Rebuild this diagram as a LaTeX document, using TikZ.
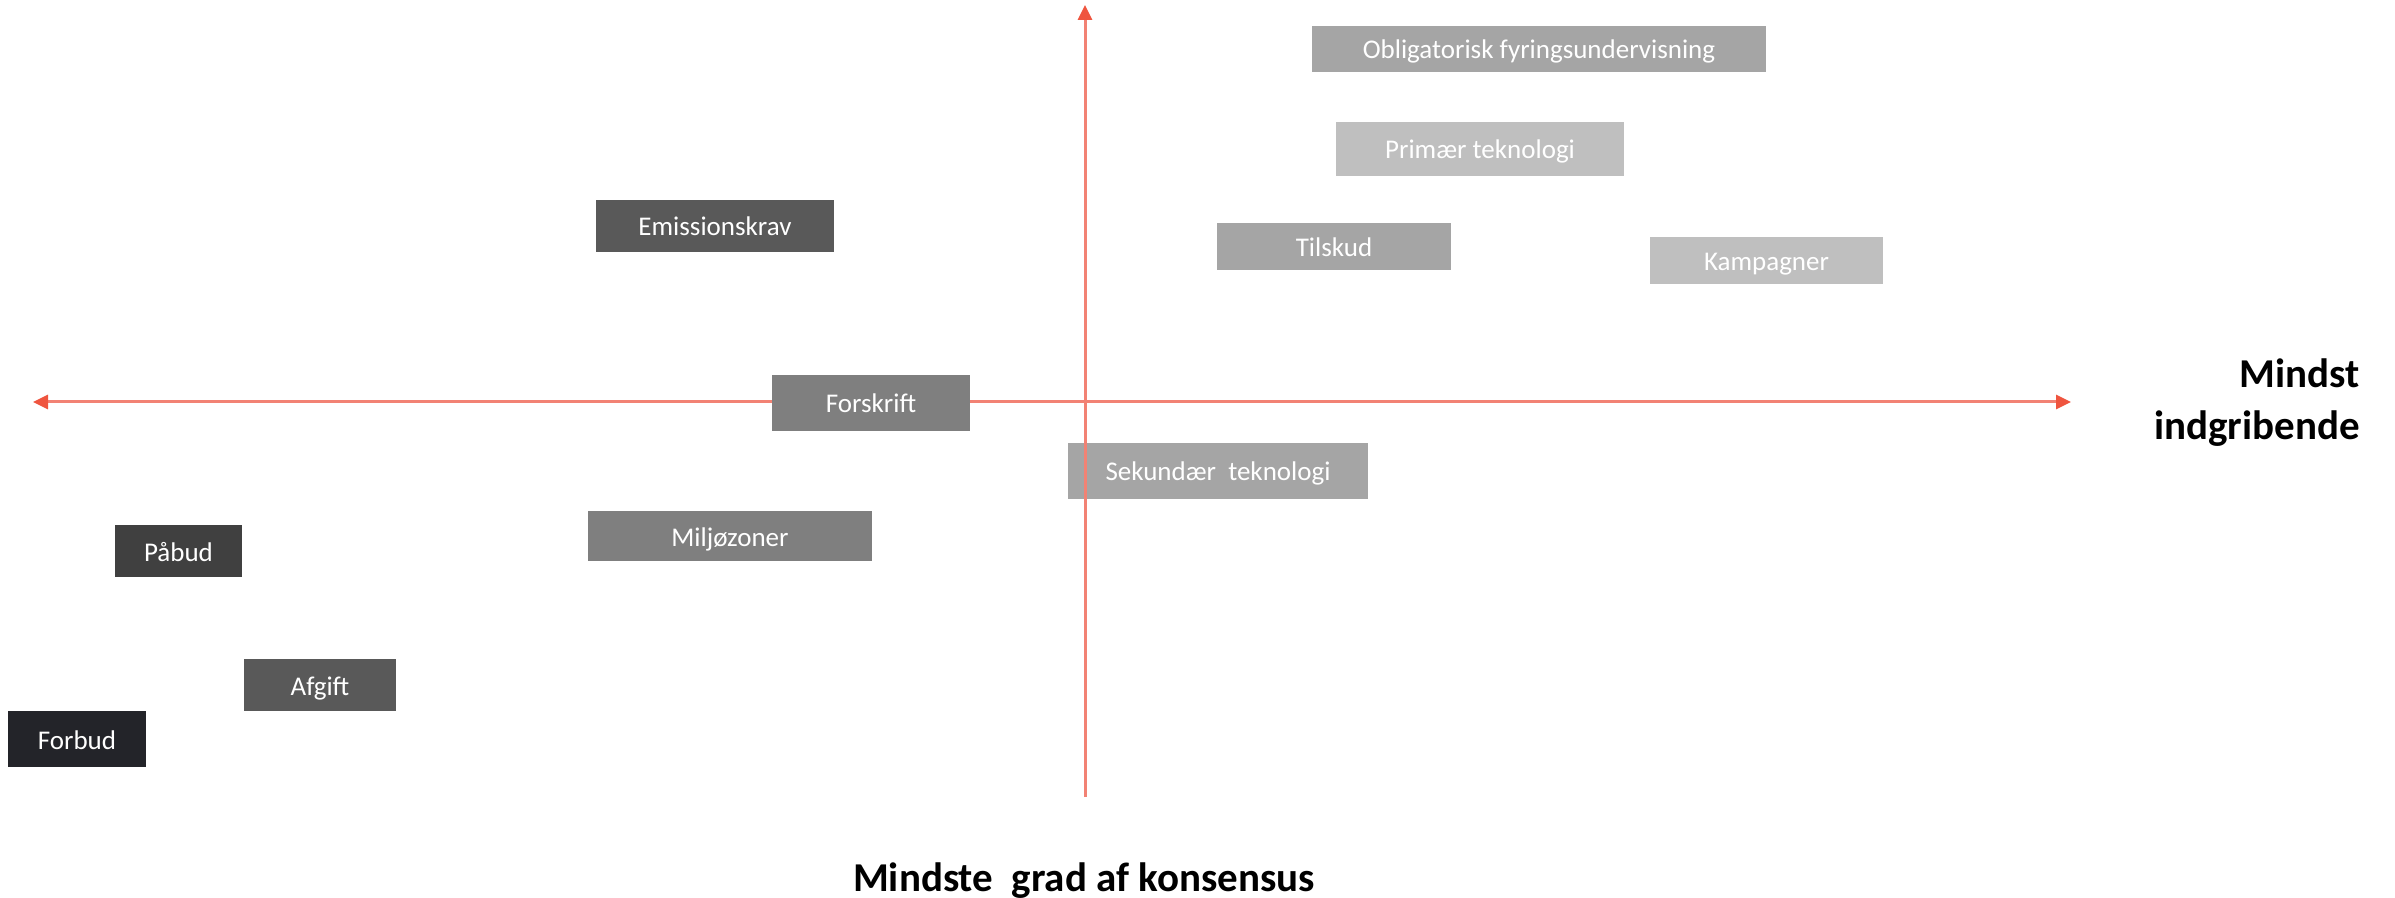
\documentclass[tikz,border=0pt]{standalone}
\usepackage{fontspec}
\setmainfont{Carlito}
\usetikzlibrary{arrows.meta}
\definecolor{axisline}{HTML}{F28274}
\definecolor{axishead}{HTML}{EF553F}
\definecolor{gA}{HTML}{A5A5A5}
\definecolor{gB}{HTML}{BFBFBF}
\definecolor{gC}{HTML}{7F7F7F}
\definecolor{gD}{HTML}{595959}
\definecolor{gE}{HTML}{404040}
\definecolor{gF}{HTML}{232429}
\tikzset{
  box/.style={rectangle, inner sep=0pt, text=white, font=\fontsize{13.5pt}{16pt}\selectfont, text height=11.5pt, text depth=1.5pt},
  axis/.style={draw=axisline, line width=1.5pt},
  tip/.style={-{Triangle[length=7.5pt,width=7pt,color=axishead]}},
  tips/.style={{Triangle[length=7.5pt,width=7pt,color=axishead]}-{Triangle[length=7.5pt,width=7pt,color=axishead]}},
  lbl/.style={inner sep=0pt, font=\fontsize{20.5pt}{25pt}\selectfont\bfseries}
}
\begin{document}
\begin{tikzpicture}[x=0.5pt,y=-0.5pt]
\useasboundingbox (0,0) rectangle (2395,898);
% axis anchors
\coordinate (hL) at (33,402);
\coordinate (hR) at (2071,402);
\coordinate (vT) at (1085,5);
\coordinate (vB) at (1085,797);
\draw[axis,tips] (hL) -- (hR);
% boxes
\node[box, fill=gA, minimum width=454*0.5pt, minimum height=46*0.5pt] (oblig) at (1539,49) {Obligatorisk fyringsundervisning};
\node[box, fill=gB, minimum width=288*0.5pt, minimum height=54*0.5pt] (prim) at (1480,149) {Primær teknologi};
\node[box, fill=gD, minimum width=238*0.5pt, minimum height=52*0.5pt] (emis) at (715,226) {Emissionskrav};
\node[box, fill=gA, minimum width=234*0.5pt, minimum height=47*0.5pt] (tils) at (1334,246.5) {Tilskud};
\node[box, fill=gB, minimum width=233*0.5pt, minimum height=47*0.5pt] (kamp) at (1766.5,260.5) {Kampagner};
\node[box, fill=gC, minimum width=198*0.5pt, minimum height=56*0.5pt] (forsk) at (871,403) {Forskrift};
\node[box, fill=gA, minimum width=300*0.5pt, minimum height=56*0.5pt] (sek) at (1218,471) {Sekundær\hspace{0.45em}teknologi};
\node[box, fill=gC, minimum width=284*0.5pt, minimum height=50*0.5pt] (milj) at (730,536) {Miljøzoner};
\node[box, fill=gE, minimum width=127*0.5pt, minimum height=52*0.5pt] (pabud) at (178.5,551) {Påbud};
\node[box, fill=gD, minimum width=152*0.5pt, minimum height=52*0.5pt] (afg) at (320,685) {Afgift};
\node[box, fill=gF, minimum width=138*0.5pt, minimum height=56*0.5pt] (forb) at (77,739) {Forbud};
% vertical axis on top
\draw[axis,tip] (vB) -- (vT);
% labels
\node[lbl, anchor=base east] (m1) at (2360,388) {Mindst};
\node[lbl, anchor=base east] (m2) at (2360,440) {indgribende};
\node[lbl, anchor=base] (bot) at (1084,891) {Mindste\hspace{0.45em}grad af konsensus};
\end{tikzpicture}
\end{document}
